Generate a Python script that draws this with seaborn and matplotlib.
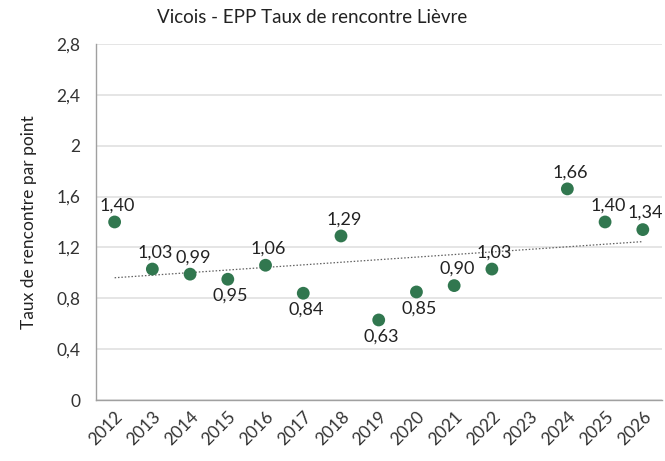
import matplotlib
matplotlib.use('Agg')
import matplotlib.pyplot as plt
import numpy as np
import pandas as pd
import seaborn as sns

# chart data
years = ['2012', '2013', '2014', '2015', '2016', '2017', '2018', '2019',
         '2020', '2021', '2022', '2023', '2024', '2025', '2026']
taux = [1.40, 1.03, 0.99, 0.95, 1.06, 0.84, 1.29, 0.63,
        0.85, 0.90, 1.03, np.nan, 1.66, 1.40, 1.34]
# where each data label sits: above or below the point
label_side = ['up', 'up', 'up', 'down', 'up', 'down', 'up', 'down',
              'down', 'up', 'up', None, 'up', 'up', 'up']
y_ticks = [0, 0.4, 0.8, 1.2, 1.6, 2.0, 2.4, 2.8]

df = pd.DataFrame({'year': years, 'taux': taux})
df['pos'] = np.arange(len(years))

sns.set_style('white')
plt.rcParams['font.family'] = ['Lato', 'DejaVu Sans']

fig = plt.figure(figsize=(6.65, 4.61), dpi=100)
ax = fig.add_axes([0.144, 0.132, 0.851, 0.773])

green = '#31774F'
sns.scatterplot(data=df, x='pos', y='taux', color=green, s=85,
                edgecolor='none', ax=ax, zorder=3, legend=False)

# linear trendline over the existing points
valid = df.dropna()
coef = np.polyfit(valid['pos'], valid['taux'], 1)
xs = np.array([valid['pos'].min(), valid['pos'].max()])
ax.plot(xs, np.polyval(coef, xs), linestyle=(0, (1.2, 1.5)), color='#606060',
        linewidth=0.9, zorder=2)

# data labels
for p, v, side in zip(df['pos'], df['taux'], label_side):
    if np.isnan(v):
        continue
    dy = 12 if side == 'up' else -12
    ax.annotate(f'{v:.2f}'.replace('.', ','), (p, v), xytext=(2, dy),
                textcoords='offset points', ha='center',
                va='center', fontsize=13, color='#222222', zorder=4)

ax.set_xlim(-0.5, len(years) - 0.5)
ax.set_ylim(0, 2.8)
ax.set_yticks(y_ticks)
ax.set_yticklabels([f'{t:g}'.replace('.', ',') for t in y_ticks],
                   fontsize=12.5, color='#333333')
ax.yaxis.grid(True, color='#e0e0e0', linewidth=1.2)
ax.set_axisbelow(True)

# category ticks at the boundaries, labels at centres
ax.set_xticks(np.arange(len(years) + 1) - 0.5)
ax.set_xticklabels([])
ax.set_xticks(df['pos'], minor=True)
ax.set_xticklabels(years, minor=True, rotation=45, ha='right',
                   rotation_mode='anchor', fontsize=12.5, color='#333333')
ax.tick_params(axis='x', which='minor', length=0, pad=6)
ax.tick_params(axis='x', which='major', length=5, color='#a0a0a0', width=1)
ax.tick_params(axis='y', length=5, color='#a0a0a0', width=1, pad=6)

for side in ['top', 'right']:
    ax.spines[side].set_visible(False)
for side in ['left', 'bottom']:
    ax.spines[side].set_color('#a0a0a0')
    ax.spines[side].set_linewidth(1)

ax.set_xlabel('')
ax.set_ylabel('Taux de rencontre par point', fontsize=12.5, color='#222222',
              labelpad=14)

fig.text(0.47, 0.962, 'Vicois - EPP Taux de rencontre Lièvre', ha='center',
         va='center', fontsize=13.5, color='#222222')

fig.savefig('out.png', dpi=100)
